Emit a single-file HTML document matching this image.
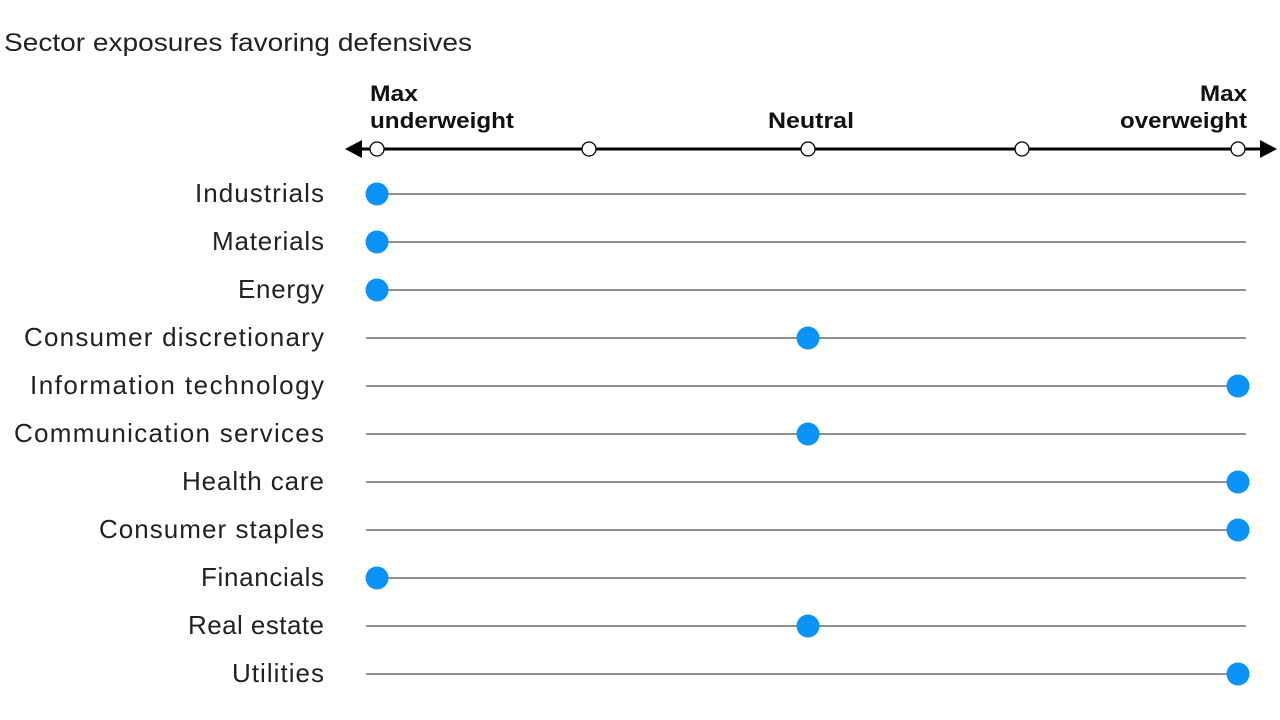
<!DOCTYPE html>
<html><head><meta charset="utf-8"><style>
body{margin:0;background:#fff;}
svg{display:block;font-family:"Liberation Sans",sans-serif;}
</style></head><body>
<svg width="1280" height="720" xmlns="http://www.w3.org/2000/svg">
<text x="4" y="51" font-size="25" fill="#222" textLength="468" lengthAdjust="spacingAndGlyphs">Sector exposures favoring defensives</text>
<g font-size="22" font-weight="bold" fill="#111">
<text x="370" y="101" textLength="48" lengthAdjust="spacingAndGlyphs">Max</text>
<text x="370" y="128" textLength="144" lengthAdjust="spacingAndGlyphs">underweight</text>
<text x="768" y="128" textLength="86" lengthAdjust="spacingAndGlyphs">Neutral</text>
<text x="1200" y="101" textLength="47" lengthAdjust="spacingAndGlyphs">Max</text>
<text x="1120" y="128" textLength="127" lengthAdjust="spacingAndGlyphs">overweight</text>
</g>
<line x1="356" y1="149" x2="1266" y2="149" stroke="#000" stroke-width="3"/>
<polygon points="345,149 362,140 362,158" fill="#000"/>
<polygon points="1277,149 1260,140 1260,158" fill="#000"/>
<g fill="#fff" stroke="#000" stroke-width="1.3">
<circle cx="377" cy="149" r="7"/><circle cx="589" cy="149" r="7"/><circle cx="808" cy="149" r="7"/><circle cx="1022" cy="149" r="7"/><circle cx="1238" cy="149" r="7"/>
</g>
<g font-size="26" fill="#222" lengthAdjust="spacingAndGlyphs">
<text x="195" y="202" textLength="129">Industrials</text>
<text x="212" y="250" textLength="112">Materials</text>
<text x="238" y="298" textLength="86">Energy</text>
<text x="24" y="346" textLength="300">Consumer discretionary</text>
<text x="30" y="394" textLength="294">Information technology</text>
<text x="14" y="442" textLength="310">Communication services</text>
<text x="182" y="490" textLength="142">Health care</text>
<text x="99" y="538" textLength="225">Consumer staples</text>
<text x="201" y="586" textLength="123">Financials</text>
<text x="188" y="634" textLength="136">Real estate</text>
<text x="232" y="682" textLength="92">Utilities</text>
</g>
<g stroke="#222" stroke-width="1">
<line x1="366" y1="194" x2="1246" y2="194"/><line x1="366" y1="242" x2="1246" y2="242"/><line x1="366" y1="290" x2="1246" y2="290"/><line x1="366" y1="338" x2="1246" y2="338"/><line x1="366" y1="386" x2="1246" y2="386"/><line x1="366" y1="434" x2="1246" y2="434"/><line x1="366" y1="482" x2="1246" y2="482"/><line x1="366" y1="530" x2="1246" y2="530"/><line x1="366" y1="578" x2="1246" y2="578"/><line x1="366" y1="626" x2="1246" y2="626"/><line x1="366" y1="674" x2="1246" y2="674"/>
</g>
<g fill="#0a93f5">
<circle cx="377" cy="194" r="11.5"/><circle cx="377" cy="242" r="11.5"/><circle cx="377" cy="290" r="11.5"/><circle cx="808" cy="338" r="11.5"/><circle cx="1238" cy="386" r="11.5"/><circle cx="808" cy="434" r="11.5"/><circle cx="1238" cy="482" r="11.5"/><circle cx="1238" cy="530" r="11.5"/><circle cx="377" cy="578" r="11.5"/><circle cx="808" cy="626" r="11.5"/><circle cx="1238" cy="674" r="11.5"/>
</g>
</svg>
</body></html>
